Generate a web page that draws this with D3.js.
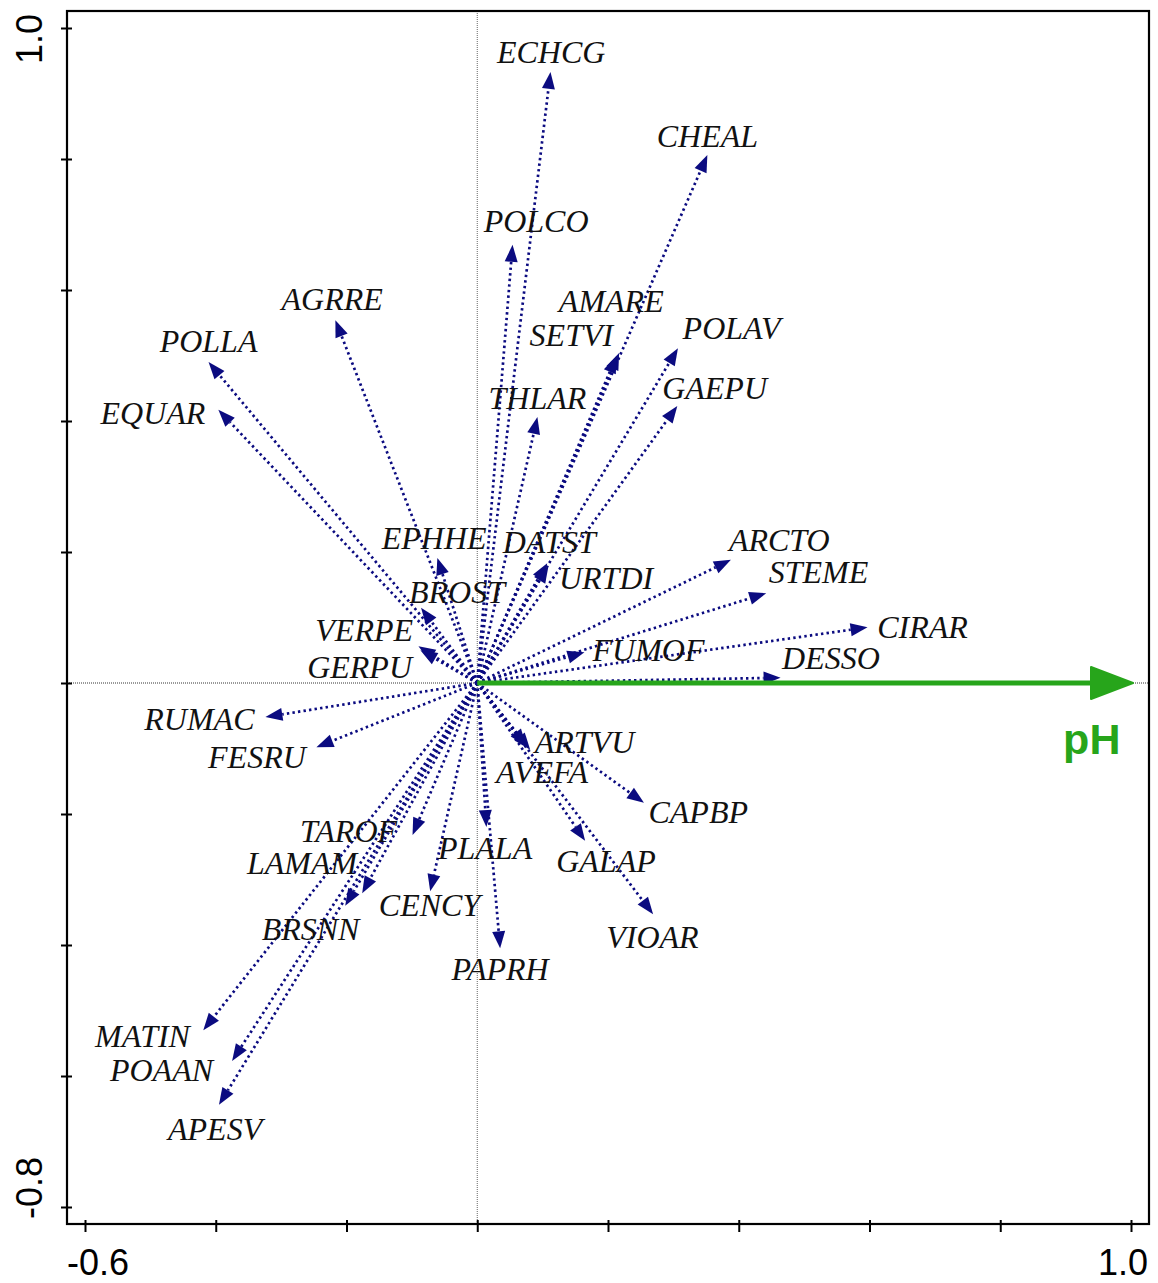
<!DOCTYPE html>
<html>
<head>
<meta charset="utf-8">
<script src="https://cdnjs.cloudflare.com/ajax/libs/d3/7.8.5/d3.min.js"></script>
<style>
  html, body { margin: 0; padding: 0; background: #fff; }
  svg { display: block; }
</style>
</head>
<body>
<svg id="chart" width="1158" height="1283"></svg>
<script>
// ---------- data ----------
const species = ["ECHCG","CHEAL","POLCO","AMARE","SETVI","POLAV","GAEPU","THLAR","AGRRE","POLLA",
  "EQUAR","EPHHE","DATST","URTDI","BROST","VERPE","GERPU","ARCTO","STEME","CIRAR",
  "FUMOF","DESSO","RUMAC","FESRU","ARTVU","AVEFA","CAPBP","GALAP","VIOAR","PAPRH",
  "PLALA","CENCY","TAROF","LAMAM","BRSNN","MATIN","POAAN","APESV"];
// arrow tip coordinates (axis 1, axis 2)
const axis1 = [0.112, 0.352, 0.054, 0.217, 0.213, 0.307, 0.306, 0.092, -0.217, -0.411,
  -0.396, -0.061, 0.107, 0.109, -0.086, -0.090, -0.087, 0.388, 0.442, 0.597,
  0.164, 0.464, -0.324, -0.246, 0.081, 0.075, 0.255, 0.165, 0.269, 0.035,
  0.014, -0.072, -0.099, -0.176, -0.202, -0.419, -0.375, -0.395];
const axis2 = [0.933, 0.806, 0.669, 0.504, 0.499, 0.511, 0.423, 0.406, 0.554, 0.490,
  0.417, 0.191, 0.183, 0.179, 0.115, 0.056, 0.050, 0.188, 0.137, 0.085,
  0.047, 0.008, -0.052, -0.098, -0.102, -0.096, -0.183, -0.241, -0.353, -0.405,
  -0.220, -0.318, -0.232, -0.321, -0.340, -0.530, -0.577, -0.644];
// label anchor coordinates (data units)
const labelX = [0.113, 0.352, 0.090, 0.205, 0.144, 0.389, 0.363, 0.092, -0.222, -0.411,
  -0.496, -0.066, 0.110, 0.197, -0.031, -0.173, -0.180, 0.462, 0.522, 0.681,
  0.262, 0.541, -0.425, -0.337, 0.164, 0.099, 0.338, 0.197, 0.268, 0.035,
  0.012, -0.073, -0.197, -0.268, -0.255, -0.512, -0.483, -0.401];
const labelY = [0.963, 0.835, 0.705, 0.582, 0.531, 0.542, 0.450, 0.435, 0.585, 0.521,
  0.412, 0.220, 0.215, 0.160, 0.139, 0.081, 0.023, 0.217, 0.169, 0.085,
  0.049, 0.038, -0.055, -0.113, -0.090, -0.137, -0.198, -0.272, -0.388, -0.437,
  -0.252, -0.339, -0.227, -0.276, -0.377, -0.539, -0.591, -0.681];
// environmental variable
const envNames = ["pH"];
const envX = [1.0];
const envY = [0.0];
const envLabelX = [0.94];
const envLabelY = [-0.085];
// axis ticks and labels
const xTicks = [-0.6, -0.4, -0.2, 0.0, 0.2, 0.4, 0.6, 0.8, 1.0];
const yTicks = [1.0, 0.8, 0.6, 0.4, 0.2, 0.0, -0.2, -0.4, -0.6, -0.8];
const xTickLabels = ["-0.6", "1.0"];
const yTickLabels = ["1.0", "-0.8"];

// ---------- layout ----------
const svg = d3.select("#chart");
const frame = { left: 67, right: 1149, top: 11, bottom: 1224 };
const x = d3.scaleLinear().domain([-0.6, 1.0]).range([85, 1131]);
const y = d3.scaleLinear().domain([-0.8, 1.0]).range([1207, 28]);

const navy = "#0b0b80";
const green = "#27a51b";

// crosshair through origin
svg.append("line")
  .attr("x1", x(0)).attr("x2", x(0)).attr("y1", frame.top).attr("y2", frame.bottom)
  .attr("stroke", "#666").attr("stroke-width", 1).attr("stroke-dasharray", "1,1");
svg.append("line")
  .attr("x1", frame.left).attr("x2", frame.right).attr("y1", y(0)).attr("y2", y(0))
  .attr("stroke", "#333").attr("stroke-width", 1).attr("stroke-dasharray", "1,1");

// frame
svg.append("rect")
  .attr("x", frame.left).attr("y", frame.top)
  .attr("width", frame.right - frame.left).attr("height", frame.bottom - frame.top)
  .attr("fill", "none").attr("stroke", "#000").attr("stroke-width", 2.2);

// axes (ticks only)
const gx = svg.append("g").attr("transform", `translate(0,${frame.bottom})`)
  .call(d3.axisBottom(x).tickValues(xTicks).tickSize(8).tickFormat(""));
gx.select(".domain").remove();
gx.selectAll(".tick line").attr("y1", -4).attr("stroke-width", 2);

const gy = svg.append("g").attr("transform", `translate(${frame.left},0)`)
  .call(d3.axisLeft(y).tickValues(yTicks).tickSize(6).tickFormat(""));
gy.select(".domain").remove();
gy.selectAll(".tick line").attr("x1", 5).attr("stroke-width", 2);

// axis end labels
const axisFont = "'Liberation Sans', Arial, sans-serif";
svg.append("text").attr("x", frame.left).attr("y", 1275)
  .attr("text-anchor", "start").attr("font-family", axisFont).attr("font-size", 36)
  .text(xTickLabels[0]);
svg.append("text").attr("x", frame.right - 1).attr("y", 1275)
  .attr("text-anchor", "end").attr("font-family", axisFont).attr("font-size", 36)
  .text(xTickLabels[1]);
svg.append("text").attr("transform", `translate(42,${frame.top + 3}) rotate(-90)`)
  .attr("text-anchor", "end").attr("font-family", axisFont).attr("font-size", 36)
  .text(yTickLabels[0]);
svg.append("text").attr("transform", `translate(42,${frame.bottom - 5}) rotate(-90)`)
  .attr("text-anchor", "start").attr("font-family", axisFont).attr("font-size", 36)
  .text(yTickLabels[1]);

// species arrows
const data = species.map((s, i) => ({ name: s, x: axis1[i], y: axis2[i], lx: labelX[i], ly: labelY[i] }));
const headLen = 17, headHalf = 6.5;

const arrows = svg.append("g");
data.forEach(d => {
  const x0 = x(0), y0 = y(0), x1 = x(d.x), y1 = y(d.y);
  const dx = x1 - x0, dy = y1 - y0, len = Math.hypot(dx, dy);
  const ux = dx / len, uy = dy / len;
  const bx = x1 - ux * headLen, by = y1 - uy * headLen;
  arrows.append("line")
    .attr("x1", x0).attr("y1", y0).attr("x2", bx).attr("y2", by)
    .attr("stroke", navy).attr("stroke-width", 2.7)
    .attr("stroke-dasharray", "2.4,3.2");
  const px = -uy, py = ux;
  arrows.append("path")
    .attr("d", `M${x1},${y1}L${bx + px * headHalf},${by + py * headHalf}L${bx - px * headHalf},${by - py * headHalf}Z`)
    .attr("fill", navy);
});

// species labels
svg.append("g").selectAll("text").data(data).join("text")
  .attr("x", d => x(d.lx)).attr("y", d => y(d.ly)).attr("dy", "0.33em")
  .attr("text-anchor", "middle")
  .attr("font-family", "'Liberation Serif', 'Times New Roman', serif")
  .attr("font-style", "italic").attr("font-size", 32).attr("fill", "#111")
  .text(d => d.name);

// environmental arrow (pH)
envNames.forEach((n, i) => {
  const x0 = x(0), y0 = y(0), x1 = x(envX[i]) + 2, y1 = y(envY[i]);
  const hl = 42, hh = 16;
  svg.append("line")
    .attr("x1", x0).attr("y1", y0).attr("x2", x1 - hl + 2).attr("y2", y1)
    .attr("stroke", green).attr("stroke-width", 5);
  svg.append("path")
    .attr("d", `M${x1},${y1}L${x1 - hl},${y1 - hh}L${x1 - hl},${y1 + hh}Z`)
    .attr("fill", green).attr("stroke", green).attr("stroke-width", 2).attr("stroke-linejoin", "round");
  svg.append("text")
    .attr("x", x(envLabelX[i])).attr("y", y(envLabelY[i])).attr("dy", "0.36em")
    .attr("text-anchor", "middle")
    .attr("font-family", axisFont).attr("font-weight", "bold").attr("font-size", 43)
    .attr("fill", green).text(n);
});
</script>
</body>
</html>
